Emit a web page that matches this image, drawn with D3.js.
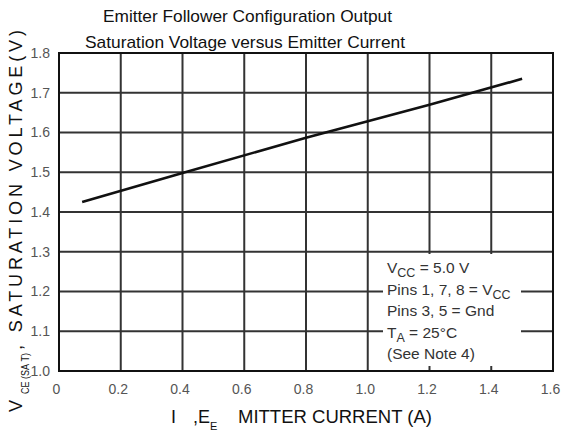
<!DOCTYPE html>
<html><head><meta charset="utf-8">
<script src="https://cdn.jsdelivr.net/npm/d3@7"></script>
<style>body{margin:0;background:#fff;}svg{display:block;}</style>
</head><body>
<svg id="chart" width="563" height="432"></svg>
<script>
// ---- data ----
const xTickValues = [0, 0.2, 0.4, 0.6, 0.8, 1.0, 1.2, 1.4, 1.6];
const xTickLabels = ["0", "0.2", "0.4", "0.6", "0.8", "1.0", "1.2", "1.4", "1.6"];
const yTickValues = [1.0, 1.1, 1.2, 1.3, 1.4, 1.5, 1.6, 1.7, 1.8];
const yTickLabels = ["1.0", "1.1", "1.2", "1.3", "1.4", "1.5", "1.6", "1.7", "1.8"];
const emitterCurrent = [0.075, 0.4, 0.8, 1.2, 1.5];
const satVoltage = [1.425, 1.498, 1.587, 1.670, 1.735];
const titleLines = ["Emitter Follower Configuration Output", "Saturation Voltage versus Emitter Current"];

const svg = d3.select("#chart");
const m = {l: 59, t: 53, r: 553, b: 371};
const x = d3.scaleLinear().domain([0, 1.6]).range([m.l, m.r]);
const y = d3.scaleLinear().domain([1.0, 1.8]).range([m.b, m.t]);
const font = "Arial, 'Liberation Sans', sans-serif";

// grid
svg.append("g").selectAll("line").data(xTickValues).join("line")
  .attr("x1", d => x(d)).attr("x2", d => x(d)).attr("y1", m.t).attr("y2", m.b)
  .attr("stroke", "#333").attr("stroke-width", 2);
svg.append("g").selectAll("line").data(yTickValues).join("line")
  .attr("x1", m.l).attr("x2", m.r).attr("y1", d => y(d)).attr("y2", d => y(d))
  .attr("stroke", "#333").attr("stroke-width", 2);
svg.append("rect").attr("x", m.l).attr("y", m.t).attr("width", m.r - m.l).attr("height", m.b - m.t)
  .attr("fill", "none").attr("stroke", "#111").attr("stroke-width", 2);

// axes tick labels via d3 axes
const xAxis = d3.axisBottom(x).tickValues(xTickValues).tickFormat((d, i) => xTickLabels[i]).tickSize(0).tickPadding(13);
const gx = svg.append("g").attr("transform", `translate(-3,${m.b})`).call(xAxis);
gx.select(".domain").remove();
gx.selectAll("text").attr("font-family", font).attr("font-size", 14).attr("fill", "#555");
const yAxis = d3.axisLeft(y).tickValues(yTickValues).tickFormat((d, i) => yTickLabels[i]).tickSize(0).tickPadding(9);
const gy = svg.append("g").attr("transform", `translate(${m.l},0)`).call(yAxis);
gy.select(".domain").remove();
gy.selectAll("text").attr("font-family", font).attr("font-size", 14).attr("fill", "#555");

// curve
const line = d3.line().x((d, i) => x(emitterCurrent[i])).y(d => y(d));
svg.append("path").datum(satVoltage).attr("d", line)
  .attr("fill", "none").attr("stroke", "#111").attr("stroke-width", 2.6);

// annotation box
svg.append("rect").attr("x", 383).attr("y", 254).attr("width", 138).attr("height", 112).attr("fill", "#fff");
const annLines = [
  [["V", 0], ["CC", 1], [" = 5.0 V", 0]],
  [["Pins 1, 7, 8 = V", 0], ["CC", 1]],
  [["Pins 3, 5 = Gnd", 0]],
  [["T", 0], ["A", 1], [" = 25\u00B0C", 0]],
  [["(See Note 4)", 0]]
];
annLines.forEach((ln, i) => {
  const t = svg.append("text").attr("x", 387).attr("y", 273 + i * 21.5)
    .attr("font-family", font).attr("font-size", 15.5).attr("fill", "#333");
  ln.forEach(([s, sub]) => {
    t.append("tspan").text(s).attr("font-size", sub ? 12.5 : 15.5)
      .attr("baseline-shift", sub ? "-4" : null);
  });
});

// titles
const titleX = [103, 85], titleLen = [289, 320];
titleLines.forEach((s, i) => {
  svg.append("text").attr("x", titleX[i]).attr("y", 22 + i * 26)
    .attr("textLength", titleLen[i]).attr("lengthAdjust", "spacingAndGlyphs")
    .attr("font-family", font).attr("font-size", 17).attr("fill", "#111").text(s);
});

// x axis title
const xt = svg.append("g").attr("font-family", font).attr("font-size", 18).attr("fill", "#111");
xt.append("text").attr("x", 171).attr("y", 423).text("I");
xt.append("text").attr("x", 193).attr("y", 423).text(",E");
xt.append("text").attr("x", 210).attr("y", 430).attr("font-size", 11).text("E");
xt.append("text").attr("x", 238).attr("y", 423).attr("textLength", 194).attr("lengthAdjust", "spacingAndGlyphs")
  .text("MITTER CURRENT (A)");

// y axis title
const yt = svg.append("g").attr("transform", "translate(22,0) rotate(-90)")
  .attr("font-family", font).attr("font-size", 18).attr("fill", "#111");
yt.append("text").attr("x", -412).attr("y", 0).text("V");
yt.append("text").attr("x", -394).attr("y", 7).attr("font-size", 10).attr("textLength", 41)
  .attr("lengthAdjust", "spacingAndGlyphs").text("CE (SA\u00A0T)");
yt.append("text").attr("x", -350).attr("y", 0).attr("textLength", 320).attr("lengthAdjust", "spacing")
  .text(", SATURATION VOLTAGE(V)");
</script>
</body></html>
